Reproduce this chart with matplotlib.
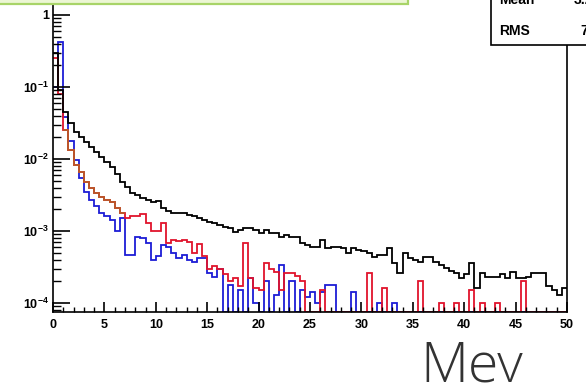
import numpy as np
import matplotlib
matplotlib.use("Agg")
import matplotlib.pyplot as plt
from matplotlib.patches import Rectangle
from matplotlib.ticker import FixedLocator, MultipleLocator, NullFormatter, FuncFormatter

# energy deposit spectra, 100 bins of 0.5 MeV from 0 to 50 MeV
BIN_EDGES = np.linspace(0, 50, 101)

total = [
    0.30, 0.09, 0.045, 0.032, 0.024, 0.020, 0.017, 0.0147, 0.0125, 0.0106,
    0.0090, 0.0078, 0.0062, 0.0048, 0.0041, 0.0034, 0.0032, 0.0029, 0.0027, 0.0025,
    0.0026, 0.0021, 0.0019, 0.0018, 0.0018, 0.0018, 0.00166, 0.0016, 0.0015, 0.0014,
    0.00133, 0.0013, 0.0012, 0.00115, 0.0011, 0.00096, 0.00103, 0.0011, 0.0011, 0.00103,
    0.00093, 0.00103, 0.00095, 0.00093, 0.00083, 0.00088, 0.00083, 0.00083, 0.00068, 0.00064,
    0.0006, 0.0006, 0.00075, 0.00058, 0.0006, 0.0006, 0.00058, 0.0005, 0.00058, 0.00055,
    0.00052, 0.00049, 0.00044, 0.00047, 0.00047, 0.00058, 0.00036, 0.00026, 0.00049, 0.00042,
    0.0004, 0.00037, 0.00044, 0.00044, 0.00037, 0.00034, 0.00031, 0.00028, 0.00026, 0.00022,
    0.00025, 0.00036, 0.00016, 0.00026, 0.00023, 0.00023, 0.00023, 0.00025, 0.00022, 0.00027,
    0.00022, 0.00022, 0.00023, 0.00026, 0.00026, 0.00026, 0.00017, 0.00015, 0.00013, 0.00016,
]

red = [
    0.25, 0.08, 0.025, 0.0133, 0.0083, 0.0066, 0.0048, 0.0040, 0.0034, 0.0030,
    0.0027, 0.0025, 0.0021, 0.0018, 0.0015, 0.0016, 0.0016, 0.0017, 0.0013, 0.0010,
    0.0010, 0.0013, 0.00069, 0.00075, 0.00072, 0.00075, 0.0007, 0.00049, 0.00067, 0.00045,
    0.0003, 0.00033, 0.0003, 0.00025, 0.0002, 0.00022, 0.00017, 0.00069, 0.00022, 0.00016,
    0.00015, 0.00036, 0.0003, 0.00027, 0.00015, 0.00026, 0.00026, 0.00024, 0.0002, 0.0,
    0.0, 0.0, 0.00015, 0.0, 0.0, 0.0, 0.0, 0.0, 0.0, 0.0,
    0.0, 0.00026, 0.0, 0.0, 0.00016, 0.0, 0.0, 0.0, 0.0, 0.0,
    0.0, 0.0002, 0.0, 0.0, 0.0, 0.0001, 0.0, 0.0, 0.0001, 0.0,
    0.0, 0.00015, 0.0, 0.0001, 0.0, 0.0, 0.0001, 0.0, 0.0, 0.0,
    0.0, 0.0002, 0.0, 0.0, 0.0, 0.0, 0.0, 0.0, 0.0, 0.0,
]

blue = [
    0.10, 0.42, 0.038, 0.018, 0.0097, 0.0055, 0.0035, 0.0027, 0.0022, 0.0018,
    0.0016, 0.0014, 0.0010, 0.0015, 0.00046, 0.00046, 0.00083, 0.0008, 0.00068, 0.0004,
    0.00045, 0.00063, 0.0006, 0.0005, 0.00042, 0.00046, 0.0004, 0.00037, 0.00042, 0.00042,
    0.00026, 0.00023, 0.0003, 0.0, 0.00018, 0.0, 0.00015, 0.0, 0.00022, 0.0001,
    0.0, 0.0002, 0.0, 0.00013, 0.00034, 0.0, 0.0002, 0.0, 0.00015, 0.00012,
    0.00014, 0.0001, 0.00014, 0.00018, 0.00018, 0.0, 0.0, 0.0, 0.00014, 0.0,
    0.0, 0.0, 0.0, 0.0001, 0.0, 0.0, 0.0001, 0.0, 0.0, 0.0,
    0.0, 0.0, 0.0, 0.0, 0.0, 0.0, 0.0, 0.0, 0.0, 0.0,
    0.0, 0.0, 0.0, 0.0, 0.0, 0.0, 0.0, 0.0, 0.0, 0.0,
    0.0, 0.0, 0.0, 0.0, 0.0, 0.0, 0.0, 0.0, 0.0, 0.0,
]

# low-energy component, only filled between 1 and 7 MeV
orange_first_bin = 2
orange = [0.025, 0.0133, 0.0083, 0.0066, 0.0048, 0.0040,
          0.0034, 0.0030, 0.0027, 0.0025, 0.0021, 0.0018]

x_ticks = [0, 5, 10, 15, 20, 25, 30, 35, 40, 45, 50]
y_ticks = [1e-4, 1e-3, 1e-2, 1e-1, 1]

Y_MIN, Y_MAX = 7.5e-5, 3.06
W, H = 586, 387

plt.rcParams["mathtext.fontset"] = "custom"
plt.rcParams["mathtext.bf"] = "Liberation Sans:bold"
plt.rcParams["mathtext.rm"] = "Liberation Sans"

fig = plt.figure(figsize=(W / 100, H / 100), dpi=100)
ax = fig.add_axes([53 / W, (H - 312) / H, 514 / W, 332 / H])
ax.set_yscale("log")
ax.set_xlim(0, 50)
ax.set_ylim(Y_MIN, Y_MAX)

lw = 1.3
# empty bins sit on the frame bottom, like ROOT does
ax.stairs(np.maximum(blue, Y_MIN), BIN_EDGES, color="#1c1cd6", lw=lw, baseline=None)
ax.stairs(np.maximum(red, Y_MIN), BIN_EDGES, color="#e0142c", lw=lw, baseline=None)
ax.stairs(orange, BIN_EDGES[orange_first_bin:orange_first_bin + len(orange) + 1],
          color="#b85a2a", lw=lw, baseline=None)
ax.stairs(np.maximum(total, Y_MIN), BIN_EDGES, color="black", lw=lw, baseline=None)

for side in ["left", "bottom", "right", "top"]:
    ax.spines[side].set_linewidth(1.2)


def y_label(v, pos):
    if abs(v - 1) < 1e-9:
        return "1"
    return r"$\mathbf{10^{%d}}$" % round(np.log10(v))


ax.yaxis.set_major_locator(FixedLocator(y_ticks))
ax.yaxis.set_major_formatter(FuncFormatter(y_label))
minors = [m * 10.0 ** e for e in range(-5, 1) for m in range(2, 10)]
ax.yaxis.set_minor_locator(FixedLocator(minors))
ax.yaxis.set_minor_formatter(NullFormatter())
ax.xaxis.set_major_locator(FixedLocator(x_ticks))
ax.xaxis.set_minor_locator(MultipleLocator(1))

ax.tick_params(axis="y", which="major", direction="in", length=12, width=1.2, pad=3)
ax.tick_params(axis="y", which="minor", direction="in", length=5.5, width=1.0)
ax.tick_params(axis="x", which="major", direction="in", length=7, width=1.2, pad=5)
ax.tick_params(axis="x", which="minor", direction="in", length=3.5, width=1.0)
for lab in ax.get_xticklabels() + ax.get_yticklabels():
    lab.set_fontfamily("Liberation Sans")
    lab.set_fontweight("bold")
    lab.set_fontsize(9)

# title box at the top left
fig.add_artist(Rectangle((-5 / W, (H - 4) / H), 413 / W, 20 / H, transform=fig.transFigure,
                         facecolor="#ecf6d4", edgecolor="#a8d468", lw=1.6, zorder=10))

# statistics box at the top right
fig.add_artist(Rectangle((491 / W, (H - 45) / H), 120 / W, 60 / H, transform=fig.transFigure,
                         facecolor="white", edgecolor="black", lw=1.2, zorder=10))
stat_font = dict(family="Liberation Sans", weight="bold", size=10, zorder=11,
                 transform=fig.transFigure, va="baseline")
fig.text(499 / W, (H - 4) / H, "Mean", **stat_font)
fig.text(574 / W, (H - 4) / H, "3.214", **stat_font)
fig.text(499 / W, (H - 35) / H, "RMS", **stat_font)
fig.text(580 / W, (H - 35) / H, "7.408", **stat_font)

fig.text(420 / W, (H - 381) / H, "Mev", fontsize=40, color="#333333",
         family="Open Sans", weight="light", va="baseline")

fig.savefig("out.png", dpi=100)
